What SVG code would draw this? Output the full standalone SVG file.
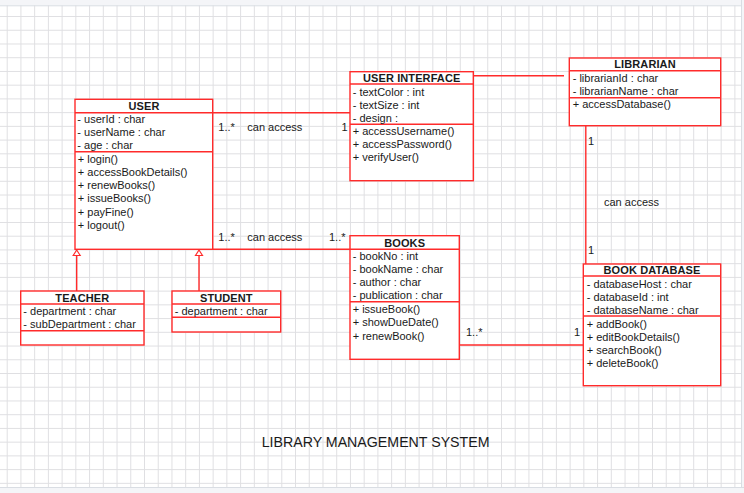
<svg xmlns="http://www.w3.org/2000/svg" width="744" height="493" viewBox="0 0 744 493">
<defs>
<pattern id="grid" patternUnits="userSpaceOnUse" x="6.7" y="2.3" width="13.73" height="13.73">
<path d="M0 0.5 H13.73 M0.5 0 V13.73" fill="none" stroke="#dfdfe2" stroke-width="1"/>
</pattern>
<style>
.box{fill:#fff;stroke:#ff2b2b;stroke-width:1.4}
.ln{fill:none;stroke:#ff2b2b;stroke-width:1.4}
.tri{fill:#fff;stroke:#ff2b2b;stroke-width:1.2}
text{font-family:"Liberation Sans",Arial,sans-serif;font-size:11px;fill:#1a1a1a}
.t{font-weight:bold;text-anchor:middle;letter-spacing:0.1px}
.title{font-size:14.2px}
</style>
</defs>
<rect width="744" height="493" fill="#fff"/>
<rect width="744" height="493" fill="url(#grid)"/>
<rect x="0" y="0" width="744" height="5.5" fill="#f4f5f8"/>
<line x1="0" y1="5.8" x2="744" y2="5.8" stroke="#d9dde3"/>
<rect x="741.5" y="0" width="3" height="493" fill="#f4f5f8"/>
<line x1="741.5" y1="0" x2="741.5" y2="493" stroke="#d9dde3"/>
<rect x="0" y="487.5" width="744" height="6" fill="#f4f5f8"/>
<line x1="0" y1="487.5" x2="744" y2="487.5" stroke="#d9dde3"/>

<g id="connectors">
<polyline class="ln" points="212.7,112.7 350,112.7"/>
<polyline class="ln" points="212.7,249.3 350,249.3"/>
<polyline class="ln" points="473.3,75.7 564,75.7"/>
<polyline class="ln" points="585.8,126 585.8,264"/>
<polyline class="ln" points="459.3,345 583.3,345"/>
<polyline class="ln" points="76.7,291 76.7,255.5"/>
<polygon class="tri" points="76.7,250 73.2,255.5 80.2,255.5"/>
<polyline class="ln" points="199,291 199,255.5"/>
<polygon class="tri" points="199,250 195.5,255.5 202.5,255.5"/>
<text x="218.3" y="131.3">1..*</text>
<text x="247.3" y="131.3">can access</text>
<text x="341.5" y="131.3">1</text>
<text x="218.3" y="241">1..*</text>
<text x="247.3" y="241">can access</text>
<text x="329" y="241">1..*</text>
<text x="588" y="145">1</text>
<text x="604" y="205.7">can access</text>
<text x="588" y="254">1</text>
<text x="466" y="336.3">1..*</text>
<text x="574" y="336.3">1</text>
</g>

<g id="user">
<rect class="box" x="75" y="99.3" width="137.7" height="150"/>
<line class="ln" x1="75" y1="112.7" x2="212.7" y2="112.7"/>
<line class="ln" x1="75" y1="151.7" x2="212.7" y2="151.7"/>
<text class="t" x="144" y="109.7">USER</text>
<text x="77.3" y="123">- userId : char</text>
<text x="77.3" y="136.2">- userName : char</text>
<text x="77.3" y="149.4">- age : char</text>
<text x="77.8" y="162.7">+ login()</text>
<text x="77.8" y="175.9">+ accessBookDetails()</text>
<text x="77.8" y="189.1">+ renewBooks()</text>
<text x="77.8" y="202.3">+ issueBooks()</text>
<text x="77.8" y="215.5">+ payFine()</text>
<text x="77.8" y="228.7">+ logout()</text>
</g>

<g id="user-interface">
<rect class="box" x="350" y="71.7" width="123.3" height="109"/>
<line class="ln" x1="350" y1="84" x2="473.3" y2="84"/>
<line class="ln" x1="350" y1="124.3" x2="473.3" y2="124.3"/>
<text class="t" x="411.7" y="81.7">USER INTERFACE</text>
<text x="352.7" y="95.7">- textColor : int</text>
<text x="352.7" y="108.9">- textSize : int</text>
<text x="352.7" y="122.1">- design :</text>
<text x="352.7" y="135">+ accessUsername()</text>
<text x="352.7" y="148.2">+ accessPassword()</text>
<text x="352.7" y="161.4">+ verifyUser()</text>
</g>

<g id="librarian">
<rect class="box" x="569.3" y="58" width="151.4" height="67.7"/>
<line class="ln" x1="569.3" y1="70.7" x2="720.7" y2="70.7"/>
<line class="ln" x1="569.3" y1="97.7" x2="720.7" y2="97.7"/>
<text class="t" x="645" y="68.3">LIBRARIAN</text>
<text x="572.7" y="81.7">- librarianId : char</text>
<text x="572.7" y="95">- librarianName : char</text>
<text x="572.7" y="108.3">+ accessDatabase()</text>
</g>

<g id="books">
<rect class="box" x="350" y="235.7" width="109.3" height="123.6"/>
<line class="ln" x1="350" y1="249.3" x2="459.3" y2="249.3"/>
<line class="ln" x1="350" y1="301.7" x2="459.3" y2="301.7"/>
<text class="t" x="404.7" y="246.7">BOOKS</text>
<text x="352.7" y="260">- bookNo : int</text>
<text x="352.7" y="273.2">- bookName : char</text>
<text x="352.7" y="286.4">- author : char</text>
<text x="352.7" y="299.4">- publication : char</text>
<text x="352.7" y="313.3">+ issueBook()</text>
<text x="352.7" y="326.3">+ showDueDate()</text>
<text x="352.7" y="339.5">+ renewBook()</text>
</g>

<g id="book-database">
<rect class="box" x="583.3" y="264" width="137.4" height="121.7"/>
<line class="ln" x1="583.3" y1="276" x2="720.7" y2="276"/>
<line class="ln" x1="583.3" y1="316" x2="720.7" y2="316"/>
<text class="t" x="652" y="274">BOOK DATABASE</text>
<text x="586.7" y="288">- databaseHost : char</text>
<text x="586.7" y="301.2">- databaseId : int</text>
<text x="586.7" y="314">- databaseName : char</text>
<text x="586.7" y="328">+ addBook()</text>
<text x="586.7" y="340.7">+ editBookDetails()</text>
<text x="586.7" y="353.7">+ searchBook()</text>
<text x="586.7" y="366.7">+ deleteBook()</text>
</g>

<g id="teacher">
<rect class="box" x="20.7" y="291" width="123.3" height="54"/>
<line class="ln" x1="20.7" y1="304" x2="144" y2="304"/>
<line class="ln" x1="20.7" y1="330.7" x2="144" y2="330.7"/>
<text class="t" x="82.3" y="301.7">TEACHER</text>
<text x="23.3" y="315">- department : char</text>
<text x="23.3" y="328.3">- subDepartment : char</text>
</g>

<g id="student">
<rect class="box" x="172" y="291" width="108.7" height="41"/>
<line class="ln" x1="172" y1="304" x2="280.7" y2="304"/>
<line class="ln" x1="172" y1="317.3" x2="280.7" y2="317.3"/>
<text class="t" x="226.3" y="301.7">STUDENT</text>
<text x="174.7" y="315">- department : char</text>
</g>

<text class="title" x="261.7" y="446.7">LIBRARY MANAGEMENT SYSTEM</text>
</svg>
